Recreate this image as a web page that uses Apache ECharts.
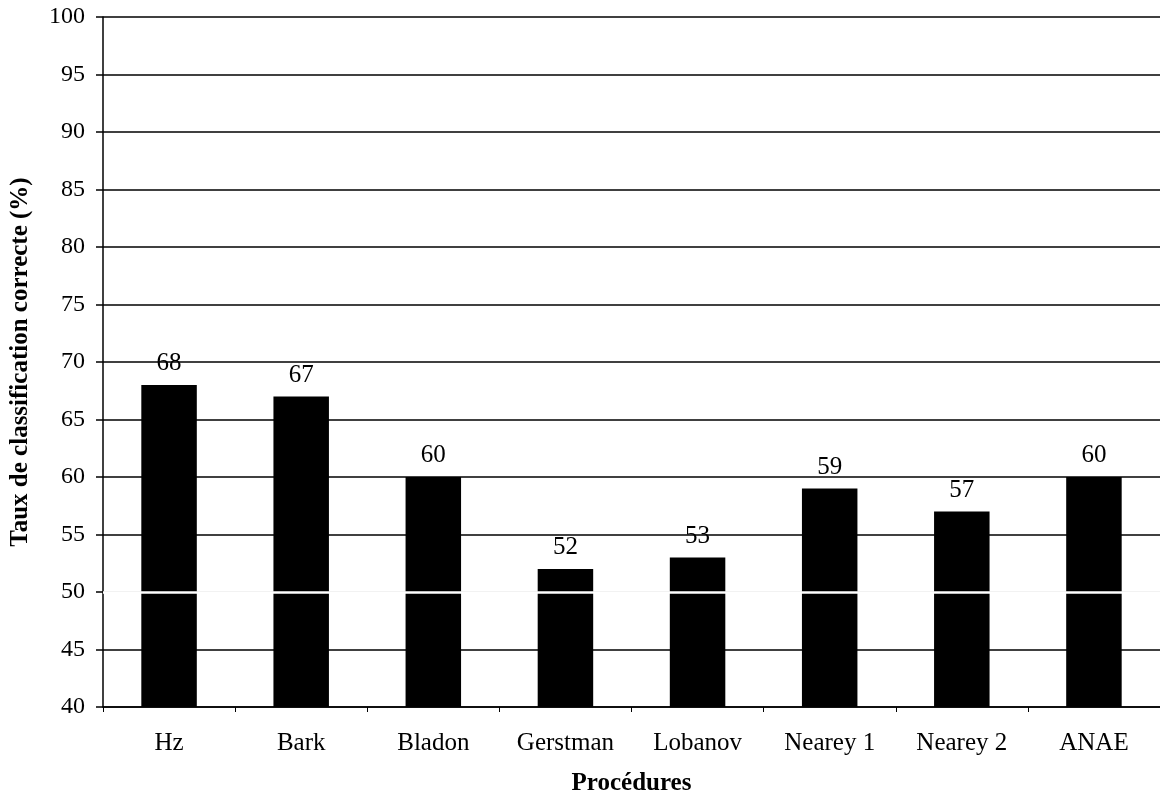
<!DOCTYPE html>
<html>
<head>
<meta charset="utf-8">
<script src="https://cdn.jsdelivr.net/npm/echarts@6/dist/echarts.min.js"></script>
<style>html,body{margin:0;padding:0;background:#fff;overflow:hidden}#c{width:1160px;height:801px}</style>
</head>
<body>
<div id="c"></div>
<script>
const categories = ['Hz', 'Bark', 'Bladon', 'Gerstman', 'Lobanov', 'Nearey 1', 'Nearey 2', 'ANAE'];
const values = [68, 67, 60, 52, 53, 59, 57, 60];
const yMin = 40, yMax = 100, yStep = 5;
const yTitle = 'Taux de classification correcte (%)';
const xTitle = 'Procédures';

const font = 'Liberation Serif';
const chart = echarts.init(document.getElementById('c'), null, {renderer: 'canvas'});
chart.setOption({
  animation: false,
  backgroundColor: '#fff',
  grid: {left: 102, right: 0, top: 17, bottom: 89, containLabel: false},
  xAxis: {
    type: 'category',
    data: categories,
    name: xTitle,
    nameLocation: 'middle',
    nameGap: 64,
    nameTextStyle: {fontFamily: font, fontSize: 25, fontWeight: 'bold', color: '#000'},
    axisLine: {lineStyle: {color: '#000', width: 1.5}},
    axisTick: {show: true, length: 5, lineStyle: {color: '#000'}},
    axisLabel: {fontFamily: font, fontSize: 25, color: '#000', margin: 24}
  },
  yAxis: {
    type: 'value',
    min: yMin, max: yMax, interval: yStep,
    name: yTitle,
    nameLocation: 'middle',
    nameGap: 70,
    nameRotate: 90,
    nameTextStyle: {fontFamily: font, fontSize: 25, fontWeight: 'bold', color: '#000'},
    axisLine: {show: true, lineStyle: {color: '#000', width: 1.5}},
    axisTick: {show: true, inside: false, length: 7, lineStyle: {color: '#000', width: 1.5}},
    axisLabel: {fontFamily: font, fontSize: 24, color: '#000', margin: 18},
    splitLine: {show: true, lineStyle: {color: ['#000', '#000', '#bbb', '#000', '#000', '#000', '#000', '#000', '#000', '#000', '#000', '#000', '#000'], width: 1.5}}
  },
  series: [{
    type: 'bar',
    data: values,
    barWidth: '42%',
    itemStyle: {color: '#000'},
    label: {show: true, position: 'top', distance: 9, fontFamily: font, fontSize: 25, color: '#000'},
    markLine: {
      silent: true,
      symbol: 'none',
      label: {show: false},
      lineStyle: {color: '#fff', width: 2.5, type: 'solid'},
      data: [{yAxis: 50}]
    }
  }]
});
</script>
</body>
</html>
